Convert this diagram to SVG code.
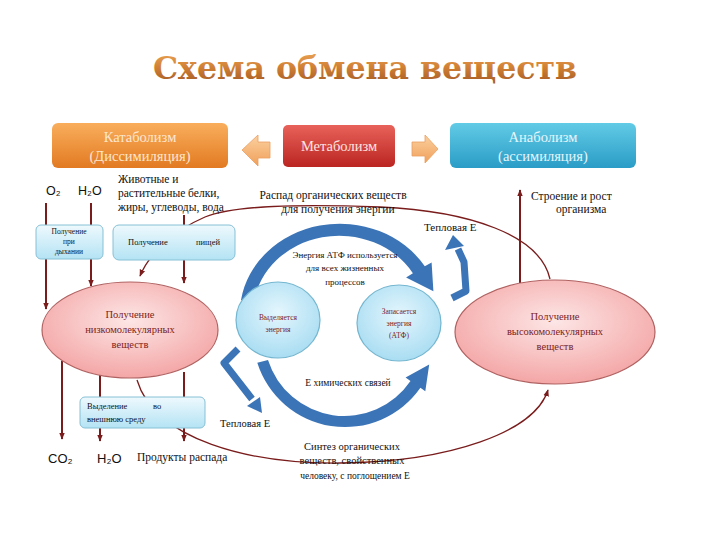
<svg xmlns="http://www.w3.org/2000/svg" width="720" height="540" viewBox="0 0 720 540">
<defs>
<linearGradient id="gTitle" x1="0" y1="0" x2="0" y2="1"><stop offset="0" stop-color="#f0aa5a"/><stop offset="0.5" stop-color="#cf7e34"/><stop offset="1" stop-color="#9a5220"/></linearGradient>
<linearGradient id="gOrange" x1="0" y1="0" x2="0" y2="1"><stop offset="0" stop-color="#f9ae5c"/><stop offset="1" stop-color="#e27a22"/></linearGradient>
<linearGradient id="gRed" x1="0" y1="0" x2="0" y2="1"><stop offset="0" stop-color="#e8625a"/><stop offset="1" stop-color="#bb2522"/></linearGradient>
<linearGradient id="gBlue" x1="0" y1="0" x2="0" y2="1"><stop offset="0" stop-color="#62cbe6"/><stop offset="1" stop-color="#2a9cc6"/></linearGradient>
<linearGradient id="gArrow" x1="0" y1="0" x2="0" y2="1"><stop offset="0" stop-color="#fbd0a0"/><stop offset="1" stop-color="#f0a05a"/></linearGradient>
<linearGradient id="gBox" x1="0" y1="0" x2="0" y2="1"><stop offset="0" stop-color="#eef9fd"/><stop offset="1" stop-color="#b4e3f4"/></linearGradient>
<radialGradient id="gPink" cx="0.5" cy="0.4" r="0.6"><stop offset="0" stop-color="#fde6e6"/><stop offset="1" stop-color="#f4a6a6"/></radialGradient>
<radialGradient id="gCirc" cx="0.5" cy="0.4" r="0.6"><stop offset="0" stop-color="#e4f6fd"/><stop offset="1" stop-color="#a9ddf2"/></radialGradient>
<marker id="ar" viewBox="0 0 10 10" refX="9" refY="5" markerWidth="7" markerHeight="7" orient="auto-start-reverse" markerUnits="userSpaceOnUse"><path d="M0,1 L10,5 L0,9 z" fill="#7a1c1c"/></marker>
<style>
.top{font-family:"Liberation Serif",serif;font-size:14.5px;text-anchor:middle}
.s{font-family:"Liberation Serif",serif;fill:#111}
.m{text-anchor:middle}
.red{fill:#7a2424}
.sans{font-family:"Liberation Sans",sans-serif;fill:#111}
.ln{stroke:#7a1c1c;stroke-width:2;fill:none}
.thin{stroke:#7a1c1c;stroke-width:1.3;fill:none}
.box{fill:url(#gBox);stroke:#86c0d6;stroke-width:1}
.ell{fill:url(#gPink);stroke:#b06262;stroke-width:1.2}
.circ{fill:url(#gCirc);stroke:#74b6d0;stroke-width:1.2}
.blue{fill:#3b74b7}
.bstroke{stroke:#3b74b7;stroke-width:7;fill:none;stroke-linejoin:round}
</style>
</defs>
<rect width="720" height="540" fill="#ffffff"/>

<text x="365" y="79" font-family="DejaVu Serif, serif" font-weight="bold" font-size="32" text-anchor="middle" fill="url(#gTitle)" textLength="424" lengthAdjust="spacingAndGlyphs">Схема обмена веществ</text>

<g id="catabolism">
<rect x="52" y="123" width="176" height="45" rx="6" fill="url(#gOrange)"/>
<text class="top" x="140" y="142" fill="#fde7cf">Катаболизм</text>
<text class="top" x="140" y="161" fill="#fde7cf">(Диссимиляция)</text>
</g>
<g id="metabolism">
<rect x="283" y="125" width="112" height="42" rx="5" fill="url(#gRed)"/>
<text class="top" x="339" y="151" fill="#fde4e0">Метаболизм</text>
</g>
<g id="anabolism">
<rect x="450" y="123" width="186" height="45" rx="6" fill="url(#gBlue)"/>
<text class="top" x="543" y="142" fill="#e4f6fc">Анаболизм</text>
<text class="top" x="543" y="161" fill="#e4f6fc">(ассимиляция)</text>
</g>
<g id="arrow-left">
<polygon points="242,150 258,135 258,142 270,142 270,158 258,158 258,166" fill="url(#gArrow)" stroke="#eaa060" stroke-width="0.8"/>
</g>
<g id="arrow-right">
<polygon points="438,149 425,135 425,142 412,142 412,156 425,156 425,163" fill="url(#gArrow)" stroke="#eaa060" stroke-width="0.8"/>
</g>

<g id="connectors">
<line class="ln" x1="46" y1="203" x2="46" y2="309" marker-end="url(#ar)"/>
<line class="ln" x1="91" y1="203" x2="91" y2="286" marker-end="url(#ar)"/>
<line class="ln" x1="184" y1="215" x2="184" y2="283" marker-end="url(#ar)"/>
<line class="ln" x1="62" y1="361" x2="62" y2="439" marker-end="url(#ar)"/>
<line class="ln" x1="100" y1="375" x2="100" y2="441" marker-end="url(#ar)"/>
<line class="ln" x1="184" y1="372" x2="184" y2="441" marker-end="url(#ar)"/>
<line class="ln" x1="520" y1="283" x2="520" y2="190" marker-end="url(#ar)"/>
<path class="thin" d="M550,279 C540,235 470,211 380,207 C300,204 235,205 205,217 C175,230 150,252 140,276" marker-end="url(#ar)"/>
<path class="thin" d="M137,380 C155,440 250,464 340,463 C450,462 535,432 548,390" marker-end="url(#ar)"/>
<path class="blue" d="M241,300 A100,90 0 0 1 424.8,266.3 L431.6,262.6 L433.4,291.3 L406.1,277.4 L412.9,273.2 A86,77 0 0 0 254,302 Z"/>
<path class="blue" d="M257.3,362.8 A92,92 0 0 0 420.4,387.8 L425.3,391.2 L429.2,364.6 L405.6,377.4 L410.5,380.9 A80,80 0 0 1 268,360 Z"/>
<polyline class="bstroke" points="452,298 466,291 464,262 458,249"/>
<polygon class="blue" points="453,235 445,250 464,246"/>
<polyline class="bstroke" points="238,349 224,363 252,399"/>
<polygon class="blue" points="262,413 247,406 260,397"/>
</g>

<g id="food-text">
<text class="s" x="118" y="183" font-size="11.5">Животные и</text>
<text class="s" x="118" y="197" font-size="11.5">растительные белки,</text>
<text class="s" x="118" y="211" font-size="11.5">жиры, углеводы, вода</text>
</g>
<g id="gases-in">
<text class="sans" x="46" y="195" font-size="12.5">O₂</text>
<text class="sans" x="78" y="195" font-size="12.5">H₂O</text>
</g>
<g id="decay-text">
<text class="s m" x="333" y="199" font-size="11.5">Распад органических веществ</text>
<text class="s m" x="338" y="213" font-size="11.5">для получения энергии</text>
</g>
<g id="growth-text">
<text class="s" x="531" y="200" font-size="11.5">Строение и рост</text>
<text class="s" x="556" y="213" font-size="11.5">организма</text>
</g>
<text class="s" x="424" y="231" font-size="11">Тепловая E</text>

<g id="box-breath">
<rect class="box" x="36" y="225" width="67" height="34" rx="5"/>
<text class="s m" x="69" y="234" font-size="7.5">Получение</text>
<text class="s m" x="69" y="244" font-size="7.5">при</text>
<text class="s m" x="69" y="254" font-size="7.5">дыхании</text>
</g>
<g id="box-food">
<rect class="box" x="113" y="225" width="122" height="35" rx="6"/>
<text class="s" x="128" y="245" font-size="8.5">Получение</text>
<text class="s" x="196" y="245" font-size="8.5">пищей</text>
</g>

<g id="low-molecular">
<ellipse class="ell" cx="130" cy="330" rx="88" ry="48"/>
<text class="s m red" x="130" y="318" font-size="10.5">Получение</text>
<text class="s m red" x="130" y="333" font-size="10.5">низкомолекулярных</text>
<text class="s m red" x="130" y="348" font-size="10.5">веществ</text>
</g>
<g id="high-molecular">
<ellipse class="ell" cx="555" cy="332" rx="100" ry="52"/>
<text class="s m red" x="555" y="320" font-size="10.5">Получение</text>
<text class="s m red" x="555" y="335" font-size="10.5">высокомолекулярных</text>
<text class="s m red" x="555" y="350" font-size="10.5">веществ</text>
</g>
<g id="energy-release">
<ellipse class="circ" cx="278" cy="320" rx="42" ry="38"/>
<text class="s m red" x="278" y="320" font-size="7.5">Выделяется</text>
<text class="s m red" x="278" y="332" font-size="7.5">энергия</text>
</g>
<g id="energy-store">
<ellipse class="circ" cx="399" cy="323" rx="42" ry="38"/>
<text class="s m red" x="399" y="314" font-size="7.5">Запасается</text>
<text class="s m red" x="399" y="326" font-size="7.5">энергия</text>
<text class="s m red" x="399" y="338" font-size="7.5">(АТФ)</text>
</g>

<g id="atp-text">
<text class="s m" x="345" y="258" font-size="9">Энергия АТФ используется</text>
<text class="s m" x="345" y="271" font-size="9">для всех жизненных</text>
<text class="s m" x="345" y="285" font-size="9">процессов</text>
</g>
<text class="s m" x="348" y="386" font-size="9.5">E химических связей</text>
<text class="s" x="220" y="427" font-size="10.5">Тепловая  E</text>

<g id="box-excrete">
<rect class="box" x="80" y="397" width="125" height="31" rx="5"/>
<text class="s" x="87" y="409" font-size="8.5">Выделение</text>
<text class="s" x="153" y="409" font-size="8.5">во</text>
<text class="s" x="87" y="422" font-size="8.5">внешнюю среду</text>
</g>

<g id="synthesis-text">
<text class="s m" x="352" y="450" font-size="10.5">Синтез органических</text>
<text class="s m" x="352" y="464" font-size="10.5">веществ, свойственных</text>
<text class="s m" x="355" y="479" font-size="9.5">человеку, с поглощением  E</text>
</g>
<g id="outputs">
<text class="sans" x="48" y="463" font-size="13">CO₂</text>
<text class="sans" x="97" y="463" font-size="13">H₂O</text>
<text class="s" x="137" y="461" font-size="11.5">Продукты распада</text>
</g>
</svg>
